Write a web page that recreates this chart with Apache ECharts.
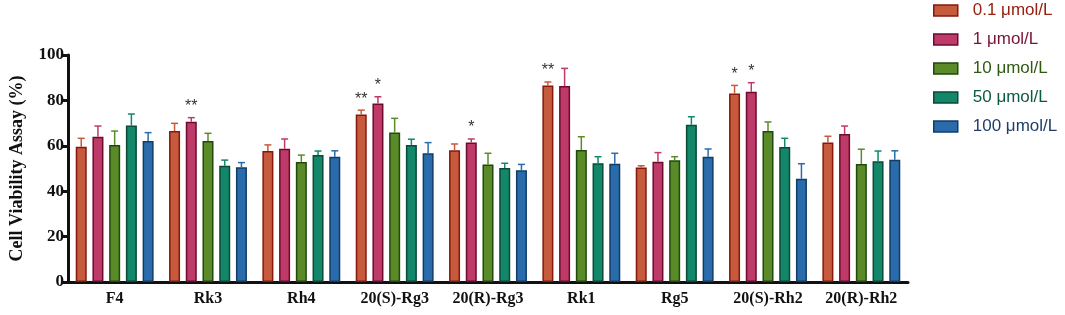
<!DOCTYPE html>
<html>
<head>
<meta charset="utf-8">
<script src="https://cdn.jsdelivr.net/npm/echarts@6/dist/echarts.min.js"></script>
<style>
  html, body { margin: 0; padding: 0; background: #fff; }
  #main { width: 1065px; height: 315px; }
</style>
</head>
<body>
<div id="main"></div>
<script>
var categories = ['F4', 'Rk3', 'Rh4', '20(S)-Rg3', '20(R)-Rg3', 'Rk1', 'Rg5', '20(S)-Rh2', '20(R)-Rh2'];
var seriesNames = ['0.1 μmol/L', '1 μmol/L', '10 μmol/L', '50 μmol/L', '100 μmol/L'];

var mean01 = [59.6, 66.5, 57.7, 73.8, 58.0, 86.6, 50.4, 83.0, 61.4];
var mean1 = [64.0, 70.6, 58.7, 78.6, 61.4, 86.3, 53.0, 83.8, 65.2];
var mean10 = [60.4, 62.1, 52.9, 65.9, 51.8, 58.1, 53.6, 66.5, 52.0];
var mean50 = [68.9, 51.2, 55.9, 60.4, 50.2, 52.3, 69.3, 59.5, 53.2];
var mean100 = [62.1, 50.5, 55.2, 56.7, 49.2, 52.1, 55.2, 45.5, 53.9];

var sd01 = [3.7, 3.4, 2.7, 1.9, 2.8, 1.5, 0.8, 3.6, 2.8];
var sd1 = [4.7, 1.8, 4.3, 3.0, 1.6, 7.8, 4.0, 4.0, 3.5];
var sd10 = [6.1, 3.4, 3.0, 6.2, 4.9, 5.9, 1.6, 4.0, 6.5];
var sd50 = [5.1, 2.5, 1.8, 2.5, 2.1, 2.9, 3.5, 3.8, 4.5];
var sd100 = [3.7, 2.1, 2.6, 4.7, 2.6, 4.6, 3.4, 6.6, 3.9];

var stars01 = ['', '', '', '**', '', '**', '', '*', ''];
var stars1 = ['', '**', '', '*', '*', '', '', '*', ''];
var starsNone = ['', '', '', '', '', '', '', '', ''];

var yTicks = [0, 20, 40, 60, 80, 100];

var means = [mean01, mean1, mean10, mean50, mean100];
var sds = [sd01, sd1, sd10, sd50, sd100];
var stars = [stars01, stars1, starsNone, starsNone, starsNone];

var fills = ['#c65a3c', '#be3a68', '#5b8a28', '#12876a', '#2a6cab'];
var borders = ['#86180b', '#6e0a2e', '#1e4a0c', '#0b4a38', '#123c66'];
var textColors = ['#98200e', '#7a1238', '#2e5a12', '#0b5a45', '#1f3f6a'];

var barW = 11;
var barGapRatio = 0.52;
var pitch = barW * (1 + barGapRatio);

var serifBold = { fontFamily: 'Liberation Serif', fontWeight: 'bold', color: '#111' };

var series = [];
seriesNames.forEach(function (name, i) {
    series.push({
        name: name,
        type: 'bar',
        barWidth: barW,
        barGap: (barGapRatio * 100) + '%',
        itemStyle: { color: fills[i], borderColor: borders[i], borderWidth: 1.5 },
        data: means[i]
    });
});
seriesNames.forEach(function (name, i) {
    var offset = (i - 2) * pitch;
    series.push({
        name: name,
        type: 'custom',
        z: 5,
        silent: true,
        renderItem: function (params, api) {
            var c = api.value(0);
            var top = api.coord([c, api.value(1) + api.value(2)]);
            var base = api.coord([c, api.value(1)]);
            var x = base[0] + offset;
            var col = fills[i];
            var children = [
                { type: 'line', shape: { x1: x, y1: base[1], x2: x, y2: top[1] }, style: { stroke: col, lineWidth: 1.5 } },
                { type: 'line', shape: { x1: x - 3.5, y1: top[1], x2: x + 3.5, y2: top[1] }, style: { stroke: col, lineWidth: 1.5 } }
            ];
            var s = stars[i][params.dataIndex];
            if (s) {
                children.push({
                    type: 'text',
                    style: { text: s, x: x, y: top[1] - 3, align: 'center', verticalAlign: 'bottom', fill: '#333', font: '16px "Liberation Sans"' }
                });
            }
            return { type: 'group', children: children };
        },
        data: means[i].map(function (m, k) { return [k, m, sds[i][k]]; })
    });
});

var myChart = echarts.init(document.getElementById('main'));
var option = {
    animation: false,
    backgroundColor: '#fff',
    legend: {
        orient: 'vertical',
        left: 933,
        top: 2,
        padding: 0,
        icon: 'rect',
        itemWidth: 24,
        itemHeight: 11,
        itemGap: 12,
        data: seriesNames.map(function (n, i) {
            return { name: n, textStyle: { color: textColors[i] } };
        }),
        itemStyle: { borderWidth: 1.5 },
        textStyle: { fontFamily: 'Liberation Sans', fontSize: 17, padding: [0, 0, 0, 10] }
    },
    grid: { left: 64, right: 157, top: 55, bottom: 33 },
    xAxis: {
        type: 'category',
        data: categories,
        axisLine: { lineStyle: { color: '#111', width: 3 } },
        axisTick: { alignWithLabel: true, length: 7, lineStyle: { color: '#111', width: 3 } },
        axisLabel: Object.assign({ fontSize: 16, margin: 9, interval: 0 }, serifBold)
    },
    yAxis: {
        type: 'value',
        min: yTicks[0],
        max: yTicks[yTicks.length - 1],
        interval: 20,
        name: 'Cell Viability Assay (%)',
        nameLocation: 'middle',
        nameGap: 42,
        nameTextStyle: Object.assign({ fontSize: 18 }, serifBold),
        splitLine: { show: false },
        axisLine: { show: true, lineStyle: { color: '#111', width: 3 } },
        axisTick: { show: true, length: 7, lineStyle: { color: '#111', width: 3 } },
        axisLabel: Object.assign({ fontSize: 17, margin: 4 }, serifBold)
    },
    series: series
};

if (option && typeof option === "object") {
    myChart.setOption(option, true);
}

window.addEventListener("resize", function () {
    myChart.resize();
});
</script>
</body>
</html>
